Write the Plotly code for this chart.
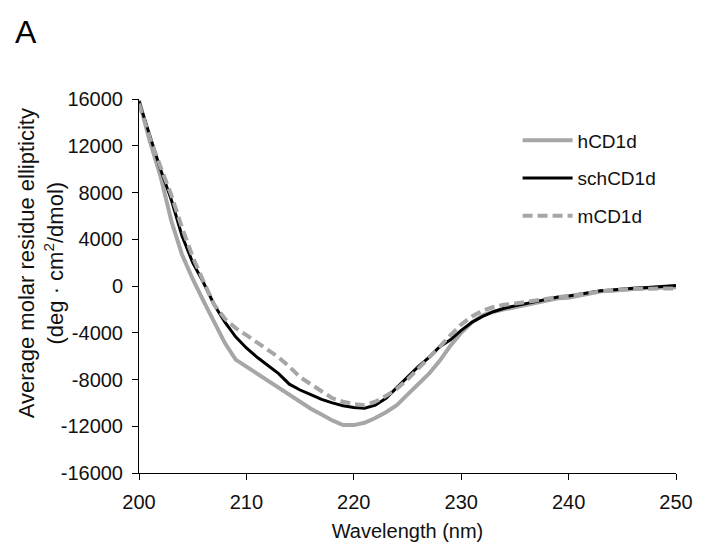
import plotly.graph_objects as go

# CD spectra, 1 nm steps
wavelength = list(range(200, 251))

hcd1d = [15900, 12400, 9400, 5600, 2700, 600, -1270, -3080, -4880, -6300,
         -6900, -7600, -8200, -8700, -9300, -9900, -10500, -11000, -11500, -11900,
         -11900, -11700, -11300, -10800, -10200, -9300, -8400, -7500, -6400, -5100,
         -4000, -3100, -2500, -2200, -2000, -1800, -1600, -1400, -1200, -1050,
         -1000, -800, -600, -450, -400, -300, -250, -200, -150, -100, -100]

schcd1d = [15800, 12800, 10000, 7400, 4300, 2000, 300, -1600, -3100, -4350,
           -5300, -6100, -6800, -7500, -8400, -8900, -9300, -9700, -10000, -10250,
           -10400, -10450, -10200, -9600, -8700, -7800, -6900, -6100, -5200, -4600,
           -3800, -3100, -2600, -2200, -1900, -1700, -1500, -1300, -1100, -950,
           -850, -700, -550, -400, -350, -250, -200, -150, -100, 0, 50]

mcd1d = [15600, 12700, 10200, 7800, 5000, 2500, 400, -1600, -2800, -3600,
         -4200, -4800, -5400, -6100, -6900, -7800, -8400, -9000, -9600, -9900,
         -10100, -10200, -9900, -9400, -8800, -8000, -7100, -6200, -5200, -4200,
         -3300, -2600, -2100, -1800, -1600, -1500, -1350, -1200, -1050, -950,
         -850, -750, -600, -450, -350, -300, -250, -250, -200, -200, -200]

y_ticks = list(range(-16000, 16001, 4000))
y_labels = [str(v) for v in y_ticks]  # plain hyphen, like the original
x_ticks = list(range(200, 251, 10))

FONT = "Liberation Sans, Arial, sans-serif"
GRAY = "#a6a6a6"
TXT = "#111111"

fig = go.Figure()
fig.add_trace(go.Scatter(x=wavelength, y=hcd1d, mode="lines", name="hCD1d",
                         legendgroup="a", line=dict(color=GRAY, width=4)))
fig.add_trace(go.Scatter(x=wavelength, y=schcd1d, mode="lines", name="schCD1d",
                         legendgroup="b", line=dict(color="black", width=3)))
fig.add_trace(go.Scatter(x=wavelength, y=mcd1d, mode="lines", name="mCD1d",
                         legendgroup="c", line=dict(color=GRAY, width=4, dash="10px,5px")))

fig.update_layout(
    width=705, height=550,
    margin=dict(l=138.5, r=21, t=98.5, b=65),
    paper_bgcolor="white", plot_bgcolor="white",
    font=dict(family=FONT, size=20, color=TXT),
    legend=dict(x=0.705, y=0.94, xanchor="left", yanchor="top", itemwidth=50,
                tracegroupgap=10, font=dict(size=19, color=TXT),
                bgcolor="rgba(0,0,0,0)"),
    xaxis=dict(range=[200, 250], tickvals=x_ticks, showline=True, linecolor="black",
               linewidth=1, ticks="outside", ticklen=6, tickcolor="black",
               showgrid=False, zeroline=False, ticklabelstandoff=5,
               title=dict(text="Wavelength (nm)", font=dict(size=20), standoff=11)),
    yaxis=dict(range=[-16000, 16000], tickvals=y_ticks, ticktext=y_labels,
               showline=True, linecolor="black", linewidth=1, ticks="outside",
               ticklen=6, tickcolor="black", showgrid=False, zeroline=False,
               ticklabelstandoff=5),
    annotations=[
        dict(text="A", xref="paper", yref="paper", x=-0.235, y=1.18,
             xanchor="left", yanchor="middle", showarrow=False,
             font=dict(size=32, color="black")),
        dict(text="Average molar residue ellipticity<br>(deg · cm<sup>2</sup>/dmol)",
             xref="paper", yref="paper", x=-0.183, y=0.56, xanchor="center",
             yanchor="middle", textangle=-90, showarrow=False,
             font=dict(size=22, color=TXT)),
    ],
)

# the page body has an 8px margin by default; drop it so the figure sits at 0,0
fig.write_html("out.html", config={"displayModeBar": False},
               post_script="document.body.style.margin='0';")
